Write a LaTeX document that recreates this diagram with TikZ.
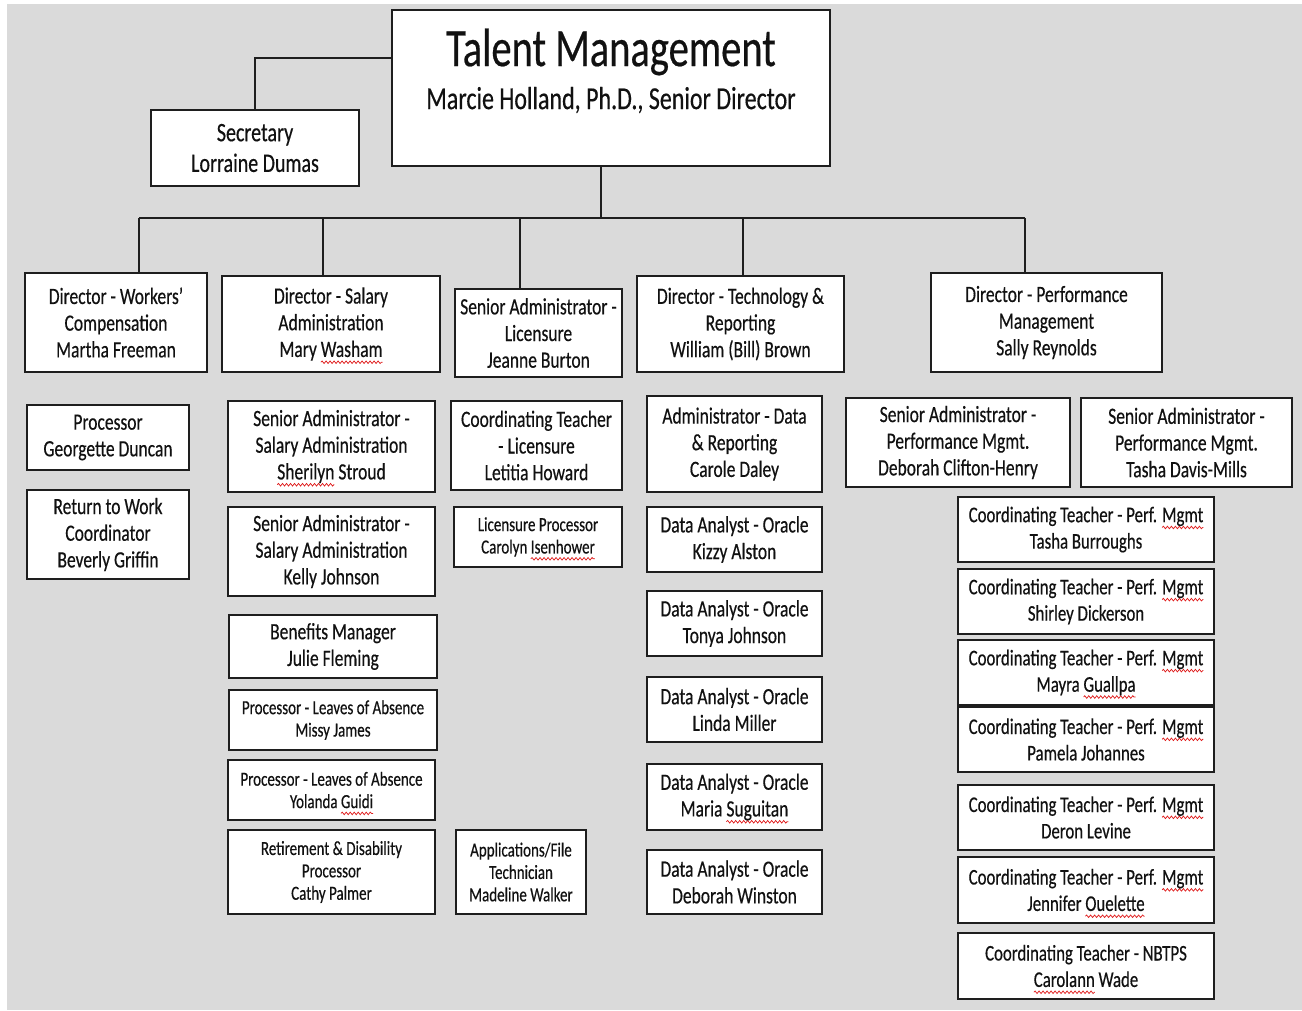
\documentclass[tikz,border=0pt]{standalone}
\usepackage{fontspec}
\setmainfont{Carlito}[FakeStretch=0.75,FakeBold=0.4]
\usetikzlibrary{decorations.pathmorphing}
\definecolor{bgc}{HTML}{DADADA}
\definecolor{linec}{HTML}{1E1E1E}
\definecolor{txtc}{HTML}{111111}
\definecolor{wavec}{HTML}{E02020}
\newsavebox\sqbox
\newcommand\sq[1]{\sbox\sqbox{#1}\leavevmode\tikz[overlay,baseline=0pt]\draw[wavec, line width=0.55pt, decorate, decoration={snake, amplitude=0.95pt, segment length=3pt}] (0pt,-4pt) -- (\wd\sqbox,-4pt);\usebox\sqbox}
\newcommand\orgbox[7][]{%
  \pgfmathsetmacro\bw{(#5-#3)*0.75}%
  \pgfmathsetmacro\bh{(#6-#4)*0.75}%
  \node[box,#1,minimum width=\bw pt,minimum height=\bh pt] (#2) at ({(#3+#5)/2},{(#4+#6)/2}) {#7};}
\tikzset{
  box/.style={draw=linec, line width=1.5pt, fill=white, inner sep=0pt, align=center,
    text=txtc, font=\fontsize{17.5}{20}\selectfont},
  smallbox/.style={font=\fontsize{15}{16.8}\selectfont},
  ctbox/.style={font=\fontsize{16.8}{19.8}\selectfont},
  conn/.style={draw=linec, line width=1.2pt},
}
\begin{document}
\begin{tikzpicture}[x=0.75pt,y=-0.75pt]
\useasboundingbox (0,0) rectangle (1302,1010);
\fill[bgc] (7,4) rectangle (1302,1010);

% top
\orgbox{tm}{392}{10}{830}{166}{}
\node[text=txtc, font=\fontsize{40.5}{44}\selectfont, inner sep=0pt] (tmt1) at (611,52) {Talent Management};
\node[text=txtc, font=\fontsize{24}{28}\selectfont, inner sep=0pt] (tmt2) at (611,100) {Marcie Holland, Ph.D., Senior Director};

\orgbox[font=\fontsize{20}{23}\selectfont]{sec}{151}{110}{359}{186}{Secretary\\Lorraine Dumas}

% level 2
\orgbox{wc}{25}{273}{207}{372}{Director - Workers’\\Compensation\\Martha Freeman}
\orgbox{sa}{222}{276}{440}{372}{Director - Salary\\Administration\\Mary \sq{Washam}}
\orgbox{lic}{455}{289}{622}{377}{Senior Administrator -\\Licensure\\Jeanne Burton}
\orgbox{tech}{637}{276}{844}{372}{Director - Technology \&\\Reporting\\William (Bill) Brown}
\orgbox{perf}{931}{273}{1162}{372}{Director - Performance\\Management\\Sally Reynolds}

% column 1
\orgbox{p1}{27}{405}{189}{470}{Processor\\Georgette Duncan}
\orgbox{p2}{27}{490}{189}{579}{Return to Work\\Coordinator\\Beverly Griffin}

% column 2
\orgbox{s1}{228}{401}{435}{492}{Senior Administrator -\\Salary Administration\\\sq{Sherilyn} Stroud}
\orgbox{s2}{228}{507}{435}{596}{Senior Administrator -\\Salary Administration\\Kelly Johnson}
\orgbox{s3}{229}{615}{437}{678}{Benefits Manager\\Julie Fleming}
\orgbox[smallbox]{s4}{229}{690}{437}{750}{Processor - Leaves of Absence\\Missy James}
\orgbox[smallbox]{s5}{228}{760}{435}{820}{Processor - Leaves of Absence\\Yolanda \sq{Guidi}}
\orgbox[smallbox]{s6}{228}{830}{435}{914}{Retirement \& Disability\\Processor\\Cathy Palmer}

% column 3
\orgbox{l1}{451}{401}{622}{490}{Coordinating Teacher\\- Licensure\\Letitia Howard}
\orgbox[smallbox]{l2}{454}{507}{622}{567}{Licensure Processor\\Carolyn \sq{Isenhower}}
\orgbox[smallbox]{l3}{456}{830}{586}{914}{Applications/File\\Technician\\Madeline Walker}

% column 4
\orgbox{t1}{647}{396}{822}{492}{Administrator - Data\\\& Reporting\\Carole Daley}
\orgbox{t2}{647}{507}{822}{572}{Data Analyst - Oracle\\Kizzy Alston}
\orgbox{t3}{647}{591}{822}{656}{Data Analyst - Oracle\\Tonya Johnson}
\orgbox{t4}{647}{677}{822}{742}{Data Analyst - Oracle\\Linda Miller}
\orgbox{t5}{647}{764}{822}{830}{Data Analyst - Oracle\\Maria \sq{Suguitan}}
\orgbox{t6}{647}{850}{822}{914}{Data Analyst - Oracle\\Deborah Winston}

% column 5
\orgbox{f1}{846}{398}{1070}{487}{Senior Administrator -\\Performance Mgmt.\\Deborah Clifton-Henry}
\orgbox{f2}{1081}{398}{1292}{487}{Senior Administrator -\\Performance Mgmt.\\Tasha Davis-Mills}
\orgbox[ctbox]{c1}{958}{497}{1214}{562}{Coordinating Teacher - Perf. \sq{Mgmt}\\Tasha Burroughs}
\orgbox[ctbox]{c2}{958}{569}{1214}{634}{Coordinating Teacher - Perf. \sq{Mgmt}\\Shirley Dickerson}
\orgbox[ctbox]{c3}{958}{640}{1214}{705}{Coordinating Teacher - Perf. \sq{Mgmt}\\Mayra \sq{Guallpa}}
\orgbox[ctbox]{c4}{958}{707}{1214}{772}{Coordinating Teacher - Perf. \sq{Mgmt}\\Pamela Johannes}
\orgbox[ctbox]{c5}{958}{785}{1214}{850}{Coordinating Teacher - Perf. \sq{Mgmt}\\Deron Levine}
\orgbox[ctbox]{c6}{958}{857}{1214}{923}{Coordinating Teacher - Perf. \sq{Mgmt}\\Jennifer \sq{Ouelette}}
\orgbox[ctbox]{c7}{958}{933}{1214}{999}{Coordinating Teacher - NBTPS\\\sq{Carolann} Wade}

% connectors
\coordinate (s0) at (255,58);
\draw[conn] (tm.west |- s0) -- (s0) -- (s0 |- sec.north);
\coordinate (j0) at (601,218);
\coordinate (b1) at (139,218);
\coordinate (b2) at (323,218);
\coordinate (b3) at (520,218);
\coordinate (b4) at (743,218);
\coordinate (b5) at (1025,218);
\draw[conn] (j0 |- tm.south) -- (j0);
\draw[conn] (b1) -- (b5);
\draw[conn] (b1) -- (b1 |- wc.north);
\draw[conn] (b2) -- (b2 |- sa.north);
\draw[conn] (b3) -- (b3 |- lic.north);
\draw[conn] (b4) -- (b4 |- tech.north);
\draw[conn] (b5) -- (b5 |- perf.north);
\end{tikzpicture}
\end{document}
